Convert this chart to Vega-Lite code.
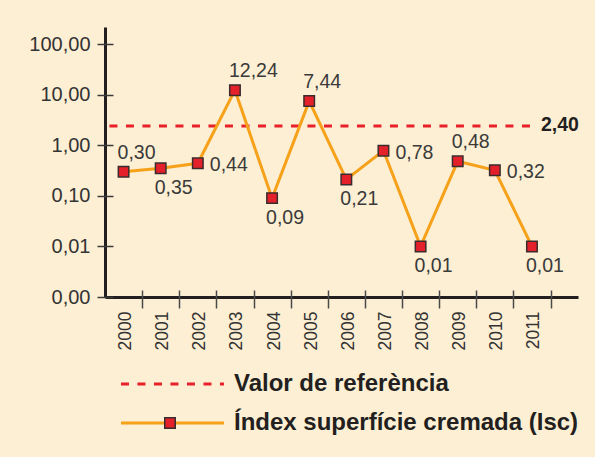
{
  "$schema": "https://vega.github.io/schema/vega-lite/v6.json",
  "background": "#fdefd3",
  "padding": {"left": 28, "top": 27, "right": 18, "bottom": 22},
  "bounds": "flush",
  "spacing": 87,
  "config": {
    "locale": {"number": {"decimal": ",", "thousands": ".", "grouping": [3], "currency": ["", " €"]}},
    "view": {"stroke": null},
    "font": "Liberation Sans",
    "axis": {"labelFont": "Liberation Sans", "grid": false, "title": null}
  },
  "datasets": {
    "isc": [
      {"year": 2000, "value": 0.30},
      {"year": 2001, "value": 0.35},
      {"year": 2002, "value": 0.44},
      {"year": 2003, "value": 12.24},
      {"year": 2004, "value": 0.09},
      {"year": 2005, "value": 7.44},
      {"year": 2006, "value": 0.21},
      {"year": 2007, "value": 0.78},
      {"year": 2008, "value": 0.01},
      {"year": 2009, "value": 0.48},
      {"year": 2010, "value": 0.32},
      {"year": 2011, "value": 0.01}
    ],
    "reference": [
      {"ref": 2.4}
    ],
    "legend": [
      {"item": "Valor de referència", "k": "ref"},
      {"item": "Índex superfície cremada (Isc)", "k": "isc"}
    ]
  },
  "vconcat": [
    {
      "width": 473,
      "height": 270,
      "data": {"name": "isc"},
      "resolve": {"axis": {"x": "independent", "y": "independent"}},
      "layer": [
        {
          "data": {"name": "reference"},
          "mark": {"type": "rule", "color": "#e8202a", "strokeWidth": 3, "strokeDash": [8, 8.5]},
          "encoding": {
            "x": {"datum": 1999.62, "type": "quantitative", "scale": {"domain": [1999.5, 2012.24], "nice": false, "zero": false}, "axis": null},
            "x2": {"datum": 2011},
            "y": {"field": "ref", "type": "quantitative", "scale": {"type": "log", "domain": [0.001, 217], "nice": false}, "axis": null}
          }
        },
        {
          "mark": {"type": "line", "color": "#f6a11a", "strokeWidth": 3},
          "encoding": {
            "x": {"field": "year", "type": "quantitative", "scale": {"domain": [1999.5, 2012.24], "nice": false, "zero": false},
              "axis": {"orient": "bottom", "values": [2000, 2001, 2002, 2003, 2004, 2005, 2006, 2007, 2008, 2009, 2010, 2011], "format": "d", "labelAngle": -90, "ticks": false, "tickSize": 0, "labelPadding": 14, "labelOffset": 2, "labelFontSize": 17.5, "labelColor": "#333333", "domainColor": "#231f20", "domainWidth": 3}},
            "y": {"field": "value", "type": "quantitative", "scale": {"type": "log", "domain": [0.001, 217], "nice": false},
              "axis": {"orient": "left", "values": [0.001, 0.01, 0.1, 1, 10, 100], "format": ".2f", "ticks": false, "tickSize": 0, "labelPadding": 15, "labelFontSize": 20, "labelColor": "#333333", "domainColor": "#231f20", "domainWidth": 3}}
          }
        },
        {
          "mark": {"type": "point", "shape": "square", "filled": true, "fill": "#e4202a", "stroke": "#3a2c2c", "strokeWidth": 1.5, "size": 110, "opacity": 1},
          "encoding": {
            "x": {"field": "year", "type": "quantitative", "scale": {"domain": [1999.5, 2012.24], "nice": false, "zero": false},
              "axis": {"orient": "bottom", "values": [2000.5, 2001.5, 2002.5, 2003.5, 2004.5, 2005.5, 2006.5, 2007.5, 2008.5, 2009.5, 2010.5, 2011.5], "labels": false, "domain": false, "ticks": true, "tickSize": 18, "offset": -7, "tickColor": "#4a4a4a", "tickWidth": 1.5}},
            "y": {"field": "value", "type": "quantitative", "scale": {"type": "log", "domain": [0.001, 217], "nice": false},
              "axis": {"orient": "left", "values": [0.001, 0.01, 0.1, 1, 10, 100], "labels": false, "domain": false, "ticks": true, "tickSize": 16, "offset": -8, "tickColor": "#3a3a3a", "tickWidth": 1.5}}
          }
        },
        {
          "data": {"name": "reference"},
          "mark": {"type": "text", "font": "Liberation Sans", "fontWeight": "bold", "fontSize": 19.5, "color": "#231f20", "align": "left", "baseline": "middle", "dx": 9, "dy": -1},
          "encoding": {
            "x": {"datum": 2011, "type": "quantitative", "scale": {"domain": [1999.5, 2012.24], "nice": false, "zero": false}, "axis": null},
            "y": {"field": "ref", "type": "quantitative", "scale": {"type": "log", "domain": [0.001, 217], "nice": false}, "axis": null},
            "text": {"field": "ref", "type": "quantitative", "format": ".2f"}
          }
        },
        {
          "transform": [{"filter": {"field": "year", "oneOf": [2000, 2003, 2005, 2009]}}],
          "mark": {"type": "text", "font": "Liberation Sans", "fontSize": 19.5, "color": "#3a3a3a", "align": "left", "baseline": "middle", "dx": -6, "dy": -19},
          "encoding": {
            "x": {"field": "year", "type": "quantitative", "scale": {"domain": [1999.5, 2012.24], "nice": false, "zero": false}, "axis": null},
            "y": {"field": "value", "type": "quantitative", "scale": {"type": "log", "domain": [0.001, 217], "nice": false}, "axis": null},
            "text": {"field": "value", "type": "quantitative", "format": ".2f"}
          }
        },
        {
          "transform": [{"filter": {"field": "year", "oneOf": [2001, 2004, 2006, 2008, 2011]}}],
          "mark": {"type": "text", "font": "Liberation Sans", "fontSize": 19.5, "color": "#3a3a3a", "align": "left", "baseline": "middle", "dx": -6, "dy": 19.5},
          "encoding": {
            "x": {"field": "year", "type": "quantitative", "scale": {"domain": [1999.5, 2012.24], "nice": false, "zero": false}, "axis": null},
            "y": {"field": "value", "type": "quantitative", "scale": {"type": "log", "domain": [0.001, 217], "nice": false}, "axis": null},
            "text": {"field": "value", "type": "quantitative", "format": ".2f"}
          }
        },
        {
          "transform": [{"filter": {"field": "year", "oneOf": [2002, 2007, 2010]}}],
          "mark": {"type": "text", "font": "Liberation Sans", "fontSize": 19.5, "color": "#3a3a3a", "align": "left", "baseline": "middle", "dx": 12, "dy": 2},
          "encoding": {
            "x": {"field": "year", "type": "quantitative", "scale": {"domain": [1999.5, 2012.24], "nice": false, "zero": false}, "axis": null},
            "y": {"field": "value", "type": "quantitative", "scale": {"type": "log", "domain": [0.001, 217], "nice": false}, "axis": null},
            "text": {"field": "value", "type": "quantitative", "format": ".2f"}
          }
        }
      ]
    },
    {
      "width": 473,
      "height": 39,
      "data": {"name": "legend"},
      "encoding": {
        "y": {"field": "item", "type": "nominal", "scale": {"type": "point", "padding": 0, "domain": ["Valor de referència", "Índex superfície cremada (Isc)"]}, "axis": null}
      },
      "layer": [
        {
          "transform": [{"filter": "datum.k == 'ref'"}],
          "mark": {"type": "rule", "color": "#e8202a", "strokeWidth": 3, "strokeDash": [8, 8.5]},
          "encoding": {
            "x": {"datum": 0, "type": "quantitative", "scale": {"domain": [-0.155, 4.437], "nice": false, "zero": false}, "axis": null},
            "x2": {"datum": 1}
          }
        },
        {
          "transform": [{"filter": "datum.k == 'isc'"}],
          "mark": {"type": "rule", "color": "#f6a11a", "strokeWidth": 3},
          "encoding": {
            "x": {"datum": 0, "type": "quantitative", "scale": {"domain": [-0.155, 4.437], "nice": false, "zero": false}, "axis": null},
            "x2": {"datum": 1}
          }
        },
        {
          "transform": [{"filter": "datum.k == 'isc'"}],
          "mark": {"type": "point", "shape": "square", "filled": true, "fill": "#e4202a", "stroke": "#3a2c2c", "strokeWidth": 1.5, "size": 110, "opacity": 1},
          "encoding": {
            "x": {"datum": 0.476, "type": "quantitative", "scale": {"domain": [-0.155, 4.437], "nice": false, "zero": false}, "axis": null}
          }
        },
        {
          "mark": {"type": "text", "font": "Liberation Sans", "fontWeight": "bold", "fontSize": 24, "color": "#231f20", "align": "left", "baseline": "middle", "dx": 10},
          "encoding": {
            "x": {"datum": 1, "type": "quantitative", "scale": {"domain": [-0.155, 4.437], "nice": false, "zero": false}, "axis": null},
            "text": {"field": "item", "type": "nominal"}
          }
        }
      ]
    }
  ]
}
